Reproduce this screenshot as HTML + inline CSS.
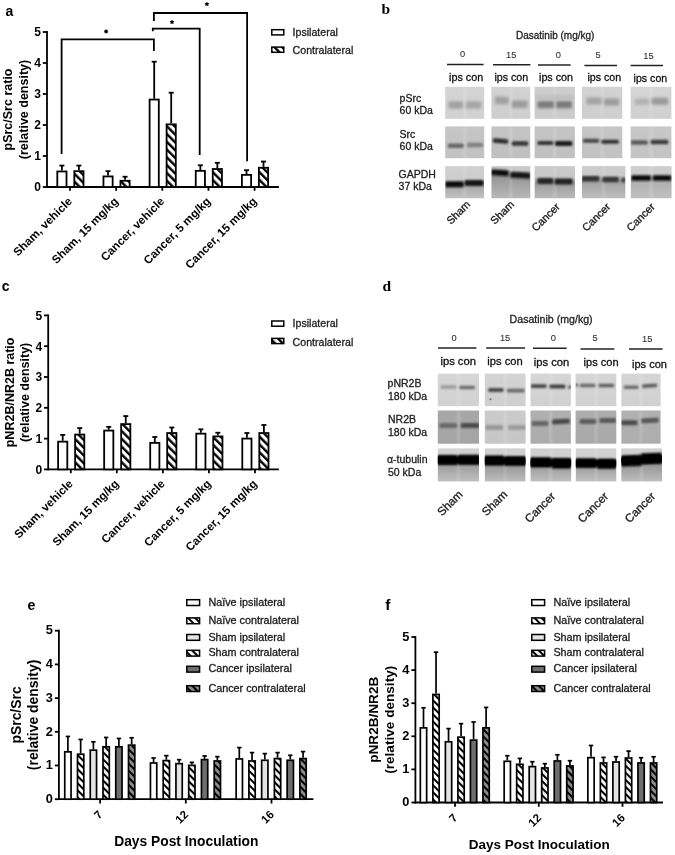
<!DOCTYPE html><html><head><meta charset="utf-8"><title>Figure</title>
<style>html,body{margin:0;padding:0;background:#fff;}svg{display:block;filter:grayscale(1);}</style></head><body>
<svg width="675" height="855" viewBox="0 0 675 855">
<defs>
<pattern id="hA" patternUnits="userSpaceOnUse" width="5.5" height="5.5" patternTransform="rotate(-45)"><rect width="5.5" height="5.5" fill="#fff"/><rect x="0" y="0" width="2.4" height="5.5" fill="#000"/></pattern>
<pattern id="hW" patternUnits="userSpaceOnUse" width="5.0" height="5.0" patternTransform="rotate(-45)"><rect width="5.0" height="5.0" fill="#fff"/><rect x="0" y="0" width="2.0" height="5.0" fill="#000"/></pattern>
<pattern id="hL" patternUnits="userSpaceOnUse" width="5.0" height="5.0" patternTransform="rotate(-45)"><rect width="5.0" height="5.0" fill="#f2f2f2"/><rect x="0" y="0" width="2.0" height="5.0" fill="#000"/></pattern>
<pattern id="hD" patternUnits="userSpaceOnUse" width="5.0" height="5.0" patternTransform="rotate(-45)"><rect width="5.0" height="5.0" fill="#8a8a8a"/><rect x="0" y="0" width="2.0" height="5.0" fill="#000"/></pattern>
<filter id="bl1" x="-50%" y="-50%" width="200%" height="200%"><feGaussianBlur stdDeviation="1.2"/></filter>
<filter id="bl15" x="-50%" y="-50%" width="200%" height="200%"><feGaussianBlur stdDeviation="1.5"/></filter>
<filter id="bl2" x="-50%" y="-50%" width="200%" height="200%"><feGaussianBlur stdDeviation="1.8"/></filter>
<filter id="bl05" x="-50%" y="-50%" width="200%" height="200%"><feGaussianBlur stdDeviation="0.6"/></filter>
<filter id="bl04" x="-5%" y="-5%" width="110%" height="110%"><feGaussianBlur stdDeviation="0.45"/></filter>
</defs>
<rect width="675" height="855" fill="#fff"/>
<text x="5.6" y="16.2" font-family='"Liberation Sans", sans-serif' font-size="14" font-weight="bold" text-anchor="start" fill="#000">a</text>
<line x1="47" y1="31.1" x2="47" y2="187.9" stroke="#000" stroke-width="1.8"/>
<line x1="42.8" y1="187" x2="47" y2="187" stroke="#000" stroke-width="1.8"/>
<text x="41" y="191.3" font-family='"Liberation Sans", sans-serif' font-size="12" font-weight="bold" text-anchor="end" fill="#000">0</text>
<line x1="42.8" y1="156" x2="47" y2="156" stroke="#000" stroke-width="1.8"/>
<text x="41" y="160.3" font-family='"Liberation Sans", sans-serif' font-size="12" font-weight="bold" text-anchor="end" fill="#000">1</text>
<line x1="42.8" y1="125" x2="47" y2="125" stroke="#000" stroke-width="1.8"/>
<text x="41" y="129.3" font-family='"Liberation Sans", sans-serif' font-size="12" font-weight="bold" text-anchor="end" fill="#000">2</text>
<line x1="42.8" y1="94" x2="47" y2="94" stroke="#000" stroke-width="1.8"/>
<text x="41" y="98.3" font-family='"Liberation Sans", sans-serif' font-size="12" font-weight="bold" text-anchor="end" fill="#000">3</text>
<line x1="42.8" y1="63" x2="47" y2="63" stroke="#000" stroke-width="1.8"/>
<text x="41" y="67.3" font-family='"Liberation Sans", sans-serif' font-size="12" font-weight="bold" text-anchor="end" fill="#000">4</text>
<line x1="42.8" y1="32" x2="47" y2="32" stroke="#000" stroke-width="1.8"/>
<text x="41" y="36.3" font-family='"Liberation Sans", sans-serif' font-size="12" font-weight="bold" text-anchor="end" fill="#000">5</text>
<line x1="46.1" y1="187" x2="278.9" y2="187" stroke="#000" stroke-width="1.8"/>
<line x1="70" y1="187" x2="70" y2="190.8" stroke="#000" stroke-width="1.8"/>
<line x1="61.9" y1="170.57" x2="61.9" y2="165.3" stroke="#000" stroke-width="1.8"/>
<line x1="59.4" y1="165.57" x2="64.4" y2="165.57" stroke="#000" stroke-width="1.8"/>
<rect x="57.3" y="171.47" width="9.2" height="15.53" fill="#fff" stroke="#000" stroke-width="1.8"/>
<line x1="78.9" y1="170.26" x2="78.9" y2="165.3" stroke="#000" stroke-width="1.8"/>
<line x1="76.4" y1="165.57" x2="81.4" y2="165.57" stroke="#000" stroke-width="1.8"/>
<rect x="74.3" y="171.16" width="9.2" height="15.84" fill="url(#hA)" stroke="#000" stroke-width="1.8"/>
<text x="72.8" y="202" font-family='"Liberation Sans", sans-serif' font-size="11.6" font-weight="bold" text-anchor="end" fill="#000" transform="rotate(-45 72.8 202)">Sham, vehicle</text>
<line x1="116.15" y1="187" x2="116.15" y2="190.8" stroke="#000" stroke-width="1.8"/>
<line x1="108.05" y1="175.53" x2="108.05" y2="170.88" stroke="#000" stroke-width="1.8"/>
<line x1="105.55" y1="171.15" x2="110.55" y2="171.15" stroke="#000" stroke-width="1.8"/>
<rect x="103.45" y="176.43" width="9.2" height="10.57" fill="#fff" stroke="#000" stroke-width="1.8"/>
<line x1="125.05" y1="179.87" x2="125.05" y2="176.46" stroke="#000" stroke-width="1.8"/>
<line x1="122.55" y1="176.73" x2="127.55" y2="176.73" stroke="#000" stroke-width="1.8"/>
<rect x="120.45" y="180.77" width="9.2" height="6.23" fill="url(#hA)" stroke="#000" stroke-width="1.8"/>
<text x="118.95" y="202" font-family='"Liberation Sans", sans-serif' font-size="11.6" font-weight="bold" text-anchor="end" fill="#000" transform="rotate(-45 118.95 202)">Sham, 15 mg/kg</text>
<line x1="162.3" y1="187" x2="162.3" y2="190.8" stroke="#000" stroke-width="1.8"/>
<line x1="154.2" y1="98.65" x2="154.2" y2="61.45" stroke="#000" stroke-width="1.8"/>
<line x1="151.7" y1="61.72" x2="156.7" y2="61.72" stroke="#000" stroke-width="1.8"/>
<rect x="149.6" y="99.55" width="9.2" height="87.45" fill="#fff" stroke="#000" stroke-width="1.8"/>
<line x1="171.2" y1="123.45" x2="171.2" y2="92.45" stroke="#000" stroke-width="1.8"/>
<line x1="168.7" y1="92.72" x2="173.7" y2="92.72" stroke="#000" stroke-width="1.8"/>
<rect x="166.6" y="124.35" width="9.2" height="62.65" fill="url(#hA)" stroke="#000" stroke-width="1.8"/>
<text x="165.1" y="202" font-family='"Liberation Sans", sans-serif' font-size="11.6" font-weight="bold" text-anchor="end" fill="#000" transform="rotate(-45 165.1 202)">Cancer, vehicle</text>
<line x1="208.45" y1="187" x2="208.45" y2="190.8" stroke="#000" stroke-width="1.8"/>
<line x1="200.35" y1="169.95" x2="200.35" y2="164.99" stroke="#000" stroke-width="1.8"/>
<line x1="197.85" y1="165.26" x2="202.85" y2="165.26" stroke="#000" stroke-width="1.8"/>
<rect x="195.75" y="170.85" width="9.2" height="16.15" fill="#fff" stroke="#000" stroke-width="1.8"/>
<line x1="217.35" y1="168.09" x2="217.35" y2="162.51" stroke="#000" stroke-width="1.8"/>
<line x1="214.85" y1="162.78" x2="219.85" y2="162.78" stroke="#000" stroke-width="1.8"/>
<rect x="212.75" y="168.99" width="9.2" height="18.01" fill="url(#hA)" stroke="#000" stroke-width="1.8"/>
<text x="211.25" y="202" font-family='"Liberation Sans", sans-serif' font-size="11.6" font-weight="bold" text-anchor="end" fill="#000" transform="rotate(-45 211.25 202)">Cancer, 5 mg/kg</text>
<line x1="254.6" y1="187" x2="254.6" y2="190.8" stroke="#000" stroke-width="1.8"/>
<line x1="246.5" y1="173.98" x2="246.5" y2="169.95" stroke="#000" stroke-width="1.8"/>
<line x1="244" y1="170.22" x2="249" y2="170.22" stroke="#000" stroke-width="1.8"/>
<rect x="241.9" y="174.88" width="9.2" height="12.12" fill="#fff" stroke="#000" stroke-width="1.8"/>
<line x1="263.5" y1="166.85" x2="263.5" y2="161.27" stroke="#000" stroke-width="1.8"/>
<line x1="261" y1="161.54" x2="266" y2="161.54" stroke="#000" stroke-width="1.8"/>
<rect x="258.9" y="167.75" width="9.2" height="19.25" fill="url(#hA)" stroke="#000" stroke-width="1.8"/>
<text x="257.4" y="202" font-family='"Liberation Sans", sans-serif' font-size="11.6" font-weight="bold" text-anchor="end" fill="#000" transform="rotate(-45 257.4 202)">Cancer, 15 mg/kg</text>
<text x="12.3" y="109.5" font-family='"Liberation Sans", sans-serif' font-size="12.5" font-weight="bold" text-anchor="middle" fill="#000" transform="rotate(-90 12.3 109.5)">pSrc/Src ratio</text>
<text x="28.3" y="109.5" font-family='"Liberation Sans", sans-serif' font-size="12.5" font-weight="bold" text-anchor="middle" fill="#000" transform="rotate(-90 28.3 109.5)">(relative density)</text>
<polyline points="61.6,154 61.6,39.3 153.9,39.3 153.9,51" fill="none" stroke="#000" stroke-width="1.8" stroke-linejoin="miter" stroke-linecap="butt"/>
<polygon points="106.1,29.1 106.98,30.29 108.38,30.76 107.53,31.96 107.51,33.44 106.1,33 104.69,33.44 104.67,31.96 103.82,30.76 105.22,30.29" fill="#000"/>
<polyline points="152.8,31.2 152.8,28.6 199.7,28.6 199.7,155" fill="none" stroke="#000" stroke-width="1.8" stroke-linejoin="miter" stroke-linecap="butt"/>
<polygon points="172,19.7 172.88,20.89 174.28,21.36 173.43,22.56 173.41,24.04 172,23.6 170.59,24.04 170.57,22.56 169.72,21.36 171.12,20.89" fill="#000"/>
<polyline points="153.9,21.1 153.9,13 247.1,13 247.1,161.3" fill="none" stroke="#000" stroke-width="1.8" stroke-linejoin="miter" stroke-linecap="butt"/>
<polygon points="206.9,1.7 207.78,2.89 209.18,3.36 208.33,4.56 208.31,6.04 206.9,5.6 205.49,6.04 205.47,4.56 204.62,3.36 206.02,2.89" fill="#000"/>
<rect x="271.8" y="29.7" width="12" height="5.2" fill="#fff" stroke="#000" stroke-width="1.5"/>
<text x="292.6" y="36" font-family='"Liberation Sans", sans-serif' font-size="10.6" stroke="#222" stroke-width="0.3" text-anchor="start" fill="#222">Ipsilateral</text>
<rect x="271.8" y="47.1" width="12" height="5.2" fill="url(#hA)" stroke="#000" stroke-width="1.5"/>
<text x="292.6" y="54.2" font-family='"Liberation Sans", sans-serif' font-size="10.6" stroke="#222" stroke-width="0.3" text-anchor="start" fill="#222">Contralateral</text>
<text x="1.8" y="291.3" font-family='"Liberation Sans", sans-serif' font-size="14" font-weight="bold" text-anchor="start" fill="#000">c</text>
<line x1="48.2" y1="314.5" x2="48.2" y2="470.3" stroke="#000" stroke-width="1.8"/>
<line x1="44" y1="469.4" x2="48.2" y2="469.4" stroke="#000" stroke-width="1.8"/>
<text x="42.2" y="473.7" font-family='"Liberation Sans", sans-serif' font-size="12" font-weight="bold" text-anchor="end" fill="#000">0</text>
<line x1="44" y1="438.6" x2="48.2" y2="438.6" stroke="#000" stroke-width="1.8"/>
<text x="42.2" y="442.9" font-family='"Liberation Sans", sans-serif' font-size="12" font-weight="bold" text-anchor="end" fill="#000">1</text>
<line x1="44" y1="407.8" x2="48.2" y2="407.8" stroke="#000" stroke-width="1.8"/>
<text x="42.2" y="412.1" font-family='"Liberation Sans", sans-serif' font-size="12" font-weight="bold" text-anchor="end" fill="#000">2</text>
<line x1="44" y1="377" x2="48.2" y2="377" stroke="#000" stroke-width="1.8"/>
<text x="42.2" y="381.3" font-family='"Liberation Sans", sans-serif' font-size="12" font-weight="bold" text-anchor="end" fill="#000">3</text>
<line x1="44" y1="346.2" x2="48.2" y2="346.2" stroke="#000" stroke-width="1.8"/>
<text x="42.2" y="350.5" font-family='"Liberation Sans", sans-serif' font-size="12" font-weight="bold" text-anchor="end" fill="#000">4</text>
<line x1="44" y1="315.4" x2="48.2" y2="315.4" stroke="#000" stroke-width="1.8"/>
<text x="42.2" y="319.7" font-family='"Liberation Sans", sans-serif' font-size="12" font-weight="bold" text-anchor="end" fill="#000">5</text>
<line x1="47.3" y1="469.4" x2="278.9" y2="469.4" stroke="#000" stroke-width="1.8"/>
<line x1="70.8" y1="469.4" x2="70.8" y2="473.2" stroke="#000" stroke-width="1.8"/>
<line x1="62.7" y1="440.76" x2="62.7" y2="434.6" stroke="#000" stroke-width="1.8"/>
<line x1="60.2" y1="434.87" x2="65.2" y2="434.87" stroke="#000" stroke-width="1.8"/>
<rect x="58.1" y="441.66" width="9.2" height="27.74" fill="#fff" stroke="#000" stroke-width="1.8"/>
<line x1="79.7" y1="433.67" x2="79.7" y2="427.82" stroke="#000" stroke-width="1.8"/>
<line x1="77.2" y1="428.09" x2="82.2" y2="428.09" stroke="#000" stroke-width="1.8"/>
<rect x="75.1" y="434.57" width="9.2" height="34.83" fill="url(#hA)" stroke="#000" stroke-width="1.8"/>
<text x="73.6" y="484.4" font-family='"Liberation Sans", sans-serif' font-size="11.6" font-weight="bold" text-anchor="end" fill="#000" transform="rotate(-45 73.6 484.4)">Sham, vehicle</text>
<line x1="116.85" y1="469.4" x2="116.85" y2="473.2" stroke="#000" stroke-width="1.8"/>
<line x1="108.75" y1="429.67" x2="108.75" y2="426.59" stroke="#000" stroke-width="1.8"/>
<line x1="106.25" y1="426.86" x2="111.25" y2="426.86" stroke="#000" stroke-width="1.8"/>
<rect x="104.15" y="430.57" width="9.2" height="38.83" fill="#fff" stroke="#000" stroke-width="1.8"/>
<line x1="125.75" y1="423.2" x2="125.75" y2="415.81" stroke="#000" stroke-width="1.8"/>
<line x1="123.25" y1="416.08" x2="128.25" y2="416.08" stroke="#000" stroke-width="1.8"/>
<rect x="121.15" y="424.1" width="9.2" height="45.3" fill="url(#hA)" stroke="#000" stroke-width="1.8"/>
<text x="119.65" y="484.4" font-family='"Liberation Sans", sans-serif' font-size="11.6" font-weight="bold" text-anchor="end" fill="#000" transform="rotate(-45 119.65 484.4)">Sham, 15 mg/kg</text>
<line x1="162.9" y1="469.4" x2="162.9" y2="473.2" stroke="#000" stroke-width="1.8"/>
<line x1="154.8" y1="441.99" x2="154.8" y2="436.75" stroke="#000" stroke-width="1.8"/>
<line x1="152.3" y1="437.02" x2="157.3" y2="437.02" stroke="#000" stroke-width="1.8"/>
<rect x="150.2" y="442.89" width="9.2" height="26.51" fill="#fff" stroke="#000" stroke-width="1.8"/>
<line x1="171.8" y1="432.13" x2="171.8" y2="427.2" stroke="#000" stroke-width="1.8"/>
<line x1="169.3" y1="427.47" x2="174.3" y2="427.47" stroke="#000" stroke-width="1.8"/>
<rect x="167.2" y="433.03" width="9.2" height="36.37" fill="url(#hA)" stroke="#000" stroke-width="1.8"/>
<text x="165.7" y="484.4" font-family='"Liberation Sans", sans-serif' font-size="11.6" font-weight="bold" text-anchor="end" fill="#000" transform="rotate(-45 165.7 484.4)">Cancer, vehicle</text>
<line x1="208.95" y1="469.4" x2="208.95" y2="473.2" stroke="#000" stroke-width="1.8"/>
<line x1="200.85" y1="432.75" x2="200.85" y2="429.05" stroke="#000" stroke-width="1.8"/>
<line x1="198.35" y1="429.32" x2="203.35" y2="429.32" stroke="#000" stroke-width="1.8"/>
<rect x="196.25" y="433.65" width="9.2" height="35.75" fill="#fff" stroke="#000" stroke-width="1.8"/>
<line x1="217.85" y1="435.52" x2="217.85" y2="432.44" stroke="#000" stroke-width="1.8"/>
<line x1="215.35" y1="432.71" x2="220.35" y2="432.71" stroke="#000" stroke-width="1.8"/>
<rect x="213.25" y="436.42" width="9.2" height="32.98" fill="url(#hA)" stroke="#000" stroke-width="1.8"/>
<text x="211.75" y="484.4" font-family='"Liberation Sans", sans-serif' font-size="11.6" font-weight="bold" text-anchor="end" fill="#000" transform="rotate(-45 211.75 484.4)">Cancer, 5 mg/kg</text>
<line x1="255" y1="469.4" x2="255" y2="473.2" stroke="#000" stroke-width="1.8"/>
<line x1="246.9" y1="437.68" x2="246.9" y2="432.75" stroke="#000" stroke-width="1.8"/>
<line x1="244.4" y1="433.02" x2="249.4" y2="433.02" stroke="#000" stroke-width="1.8"/>
<rect x="242.3" y="438.58" width="9.2" height="30.82" fill="#fff" stroke="#000" stroke-width="1.8"/>
<line x1="263.9" y1="432.13" x2="263.9" y2="424.74" stroke="#000" stroke-width="1.8"/>
<line x1="261.4" y1="425.01" x2="266.4" y2="425.01" stroke="#000" stroke-width="1.8"/>
<rect x="259.3" y="433.03" width="9.2" height="36.37" fill="url(#hA)" stroke="#000" stroke-width="1.8"/>
<text x="257.8" y="484.4" font-family='"Liberation Sans", sans-serif' font-size="11.6" font-weight="bold" text-anchor="end" fill="#000" transform="rotate(-45 257.8 484.4)">Cancer, 15 mg/kg</text>
<text x="13.6" y="392.4" font-family='"Liberation Sans", sans-serif' font-size="12.5" font-weight="bold" text-anchor="middle" fill="#000" transform="rotate(-90 13.6 392.4)">pNR2B/NR2B ratio</text>
<text x="29.2" y="392.4" font-family='"Liberation Sans", sans-serif' font-size="12.5" font-weight="bold" text-anchor="middle" fill="#000" transform="rotate(-90 29.2 392.4)">(relative density)</text>
<rect x="271.8" y="321" width="12" height="5.2" fill="#fff" stroke="#000" stroke-width="1.5"/>
<text x="292.6" y="327.3" font-family='"Liberation Sans", sans-serif' font-size="10.6" stroke="#222" stroke-width="0.3" text-anchor="start" fill="#222">Ipsilateral</text>
<rect x="271.8" y="338.4" width="12" height="5.2" fill="url(#hA)" stroke="#000" stroke-width="1.5"/>
<text x="292.6" y="345.5" font-family='"Liberation Sans", sans-serif' font-size="10.6" stroke="#222" stroke-width="0.3" text-anchor="start" fill="#222">Contralateral</text>
<text x="27.6" y="610.2" font-family='"Liberation Sans", sans-serif' font-size="14.2" font-weight="bold" text-anchor="start" fill="#000">e</text>
<line x1="58.9" y1="629.8" x2="58.9" y2="800.1" stroke="#000" stroke-width="1.8"/>
<line x1="54.9" y1="799.2" x2="58.9" y2="799.2" stroke="#000" stroke-width="1.8"/>
<text x="52.9" y="802.9" font-family='"Liberation Sans", sans-serif' font-size="12.8" font-weight="bold" text-anchor="end" fill="#000">0</text>
<line x1="54.9" y1="765.5" x2="58.9" y2="765.5" stroke="#000" stroke-width="1.8"/>
<text x="52.9" y="769.2" font-family='"Liberation Sans", sans-serif' font-size="12.8" font-weight="bold" text-anchor="end" fill="#000">1</text>
<line x1="54.9" y1="731.8" x2="58.9" y2="731.8" stroke="#000" stroke-width="1.8"/>
<text x="52.9" y="735.5" font-family='"Liberation Sans", sans-serif' font-size="12.8" font-weight="bold" text-anchor="end" fill="#000">2</text>
<line x1="54.9" y1="698.1" x2="58.9" y2="698.1" stroke="#000" stroke-width="1.8"/>
<text x="52.9" y="701.8" font-family='"Liberation Sans", sans-serif' font-size="12.8" font-weight="bold" text-anchor="end" fill="#000">3</text>
<line x1="54.9" y1="664.4" x2="58.9" y2="664.4" stroke="#000" stroke-width="1.8"/>
<text x="52.9" y="668.1" font-family='"Liberation Sans", sans-serif' font-size="12.8" font-weight="bold" text-anchor="end" fill="#000">4</text>
<line x1="54.9" y1="630.7" x2="58.9" y2="630.7" stroke="#000" stroke-width="1.8"/>
<text x="52.9" y="634.4" font-family='"Liberation Sans", sans-serif' font-size="12.8" font-weight="bold" text-anchor="end" fill="#000">5</text>
<line x1="58" y1="799.2" x2="313.4" y2="799.2" stroke="#000" stroke-width="1.8"/>
<line x1="100.1" y1="799.2" x2="100.1" y2="803.5" stroke="#000" stroke-width="1.8"/>
<line x1="67.9" y1="751.01" x2="67.9" y2="736.18" stroke="#000" stroke-width="1.7"/>
<line x1="65.7" y1="736.44" x2="70.1" y2="736.44" stroke="#000" stroke-width="1.7"/>
<rect x="64.75" y="751.86" width="6.3" height="47.34" fill="#fff" stroke="#000" stroke-width="1.7"/>
<line x1="80.65" y1="753.37" x2="80.65" y2="739.21" stroke="#000" stroke-width="1.7"/>
<line x1="78.45" y1="739.47" x2="82.85" y2="739.47" stroke="#000" stroke-width="1.7"/>
<rect x="77.5" y="754.22" width="6.3" height="44.98" fill="url(#hW)" stroke="#000" stroke-width="1.7"/>
<line x1="93.4" y1="749.32" x2="93.4" y2="741.57" stroke="#000" stroke-width="1.7"/>
<line x1="91.2" y1="741.83" x2="95.6" y2="741.83" stroke="#000" stroke-width="1.7"/>
<rect x="90.25" y="750.17" width="6.3" height="49.03" fill="#e4e4e4" stroke="#000" stroke-width="1.7"/>
<line x1="106.15" y1="745.95" x2="106.15" y2="737.19" stroke="#000" stroke-width="1.7"/>
<line x1="103.95" y1="737.45" x2="108.35" y2="737.45" stroke="#000" stroke-width="1.7"/>
<rect x="103" y="746.8" width="6.3" height="52.4" fill="url(#hL)" stroke="#000" stroke-width="1.7"/>
<line x1="118.9" y1="745.95" x2="118.9" y2="738.2" stroke="#000" stroke-width="1.7"/>
<line x1="116.7" y1="738.46" x2="121.1" y2="738.46" stroke="#000" stroke-width="1.7"/>
<rect x="115.75" y="746.8" width="6.3" height="52.4" fill="#6e6e6e" stroke="#000" stroke-width="1.7"/>
<line x1="131.65" y1="744.27" x2="131.65" y2="737.53" stroke="#000" stroke-width="1.7"/>
<line x1="129.45" y1="737.78" x2="133.85" y2="737.78" stroke="#000" stroke-width="1.7"/>
<rect x="128.5" y="745.12" width="6.3" height="54.08" fill="url(#hD)" stroke="#000" stroke-width="1.7"/>
<text x="103.4" y="815.2" font-family='"Liberation Sans", sans-serif' font-size="11.5" font-weight="bold" text-anchor="end" fill="#000" transform="rotate(-45 103.4 815.2)">7</text>
<line x1="185.8" y1="799.2" x2="185.8" y2="803.5" stroke="#000" stroke-width="1.8"/>
<line x1="153.6" y1="762.13" x2="153.6" y2="757.75" stroke="#000" stroke-width="1.7"/>
<line x1="151.4" y1="758" x2="155.8" y2="758" stroke="#000" stroke-width="1.7"/>
<rect x="150.45" y="762.98" width="6.3" height="36.22" fill="#fff" stroke="#000" stroke-width="1.7"/>
<line x1="166.35" y1="759.77" x2="166.35" y2="755.39" stroke="#000" stroke-width="1.7"/>
<line x1="164.15" y1="755.65" x2="168.55" y2="755.65" stroke="#000" stroke-width="1.7"/>
<rect x="163.2" y="760.62" width="6.3" height="38.58" fill="url(#hW)" stroke="#000" stroke-width="1.7"/>
<line x1="179.1" y1="762.8" x2="179.1" y2="759.43" stroke="#000" stroke-width="1.7"/>
<line x1="176.9" y1="759.69" x2="181.3" y2="759.69" stroke="#000" stroke-width="1.7"/>
<rect x="175.95" y="763.65" width="6.3" height="35.55" fill="#e4e4e4" stroke="#000" stroke-width="1.7"/>
<line x1="191.85" y1="764.49" x2="191.85" y2="762.13" stroke="#000" stroke-width="1.7"/>
<line x1="189.65" y1="762.38" x2="194.05" y2="762.38" stroke="#000" stroke-width="1.7"/>
<rect x="188.7" y="765.34" width="6.3" height="33.86" fill="url(#hL)" stroke="#000" stroke-width="1.7"/>
<line x1="204.6" y1="758.76" x2="204.6" y2="755.73" stroke="#000" stroke-width="1.7"/>
<line x1="202.4" y1="755.98" x2="206.8" y2="755.98" stroke="#000" stroke-width="1.7"/>
<rect x="201.45" y="759.61" width="6.3" height="39.59" fill="#6e6e6e" stroke="#000" stroke-width="1.7"/>
<line x1="217.35" y1="760.11" x2="217.35" y2="756.4" stroke="#000" stroke-width="1.7"/>
<line x1="215.15" y1="756.66" x2="219.55" y2="756.66" stroke="#000" stroke-width="1.7"/>
<rect x="214.2" y="760.96" width="6.3" height="38.24" fill="url(#hD)" stroke="#000" stroke-width="1.7"/>
<text x="189.1" y="815.2" font-family='"Liberation Sans", sans-serif' font-size="11.5" font-weight="bold" text-anchor="end" fill="#000" transform="rotate(-45 189.1 815.2)">12</text>
<line x1="271.5" y1="799.2" x2="271.5" y2="803.5" stroke="#000" stroke-width="1.8"/>
<line x1="239.3" y1="758.09" x2="239.3" y2="747.3" stroke="#000" stroke-width="1.7"/>
<line x1="237.1" y1="747.56" x2="241.5" y2="747.56" stroke="#000" stroke-width="1.7"/>
<rect x="236.15" y="758.94" width="6.3" height="40.26" fill="#fff" stroke="#000" stroke-width="1.7"/>
<line x1="252.05" y1="760.11" x2="252.05" y2="752.36" stroke="#000" stroke-width="1.7"/>
<line x1="249.85" y1="752.61" x2="254.25" y2="752.61" stroke="#000" stroke-width="1.7"/>
<rect x="248.9" y="760.96" width="6.3" height="38.24" fill="url(#hW)" stroke="#000" stroke-width="1.7"/>
<line x1="264.8" y1="759.43" x2="264.8" y2="753.37" stroke="#000" stroke-width="1.7"/>
<line x1="262.6" y1="753.62" x2="267" y2="753.62" stroke="#000" stroke-width="1.7"/>
<rect x="261.65" y="760.28" width="6.3" height="38.92" fill="#e4e4e4" stroke="#000" stroke-width="1.7"/>
<line x1="277.55" y1="757.75" x2="277.55" y2="752.36" stroke="#000" stroke-width="1.7"/>
<line x1="275.35" y1="752.61" x2="279.75" y2="752.61" stroke="#000" stroke-width="1.7"/>
<rect x="274.4" y="758.6" width="6.3" height="40.6" fill="url(#hL)" stroke="#000" stroke-width="1.7"/>
<line x1="290.3" y1="759.43" x2="290.3" y2="755.05" stroke="#000" stroke-width="1.7"/>
<line x1="288.1" y1="755.31" x2="292.5" y2="755.31" stroke="#000" stroke-width="1.7"/>
<rect x="287.15" y="760.28" width="6.3" height="38.92" fill="#6e6e6e" stroke="#000" stroke-width="1.7"/>
<line x1="303.05" y1="757.75" x2="303.05" y2="751.35" stroke="#000" stroke-width="1.7"/>
<line x1="300.85" y1="751.6" x2="305.25" y2="751.6" stroke="#000" stroke-width="1.7"/>
<rect x="299.9" y="758.6" width="6.3" height="40.6" fill="url(#hD)" stroke="#000" stroke-width="1.7"/>
<text x="274.8" y="815.2" font-family='"Liberation Sans", sans-serif' font-size="11.5" font-weight="bold" text-anchor="end" fill="#000" transform="rotate(-45 274.8 815.2)">16</text>
<text x="20.6" y="714.95" font-family='"Liberation Sans", sans-serif' font-size="13.9" font-weight="bold" text-anchor="middle" fill="#000" transform="rotate(-90 20.6 714.95)">pSrc/Src</text>
<text x="37.8" y="714.95" font-family='"Liberation Sans", sans-serif' font-size="13.9" font-weight="bold" text-anchor="middle" fill="#000" transform="rotate(-90 37.8 714.95)">(relative density)</text>
<text x="186.3" y="846.4" font-family='"Liberation Sans", sans-serif' font-size="13.8" font-weight="bold" text-anchor="middle" fill="#000">Days Post Inoculation</text>
<rect x="186.8" y="599.7" width="12.8" height="5.8" fill="#fff" stroke="#000" stroke-width="1.5"/>
<text x="208.4" y="605.8" font-family='"Liberation Sans", sans-serif' font-size="10.8" stroke="#1a1a1a" stroke-width="0.3" text-anchor="start" fill="#1a1a1a">Na&#239;ve ipsilateral</text>
<rect x="186.8" y="617.9" width="12.8" height="5.8" fill="url(#hW)" stroke="#000" stroke-width="1.5"/>
<text x="208.4" y="624" font-family='"Liberation Sans", sans-serif' font-size="10.8" stroke="#1a1a1a" stroke-width="0.3" text-anchor="start" fill="#1a1a1a">Na&#239;ve contralateral</text>
<rect x="186.8" y="634.5" width="12.8" height="5.8" fill="#e4e4e4" stroke="#000" stroke-width="1.5"/>
<text x="208.4" y="640.6" font-family='"Liberation Sans", sans-serif' font-size="10.8" stroke="#1a1a1a" stroke-width="0.3" text-anchor="start" fill="#1a1a1a">Sham ipsilateral</text>
<rect x="186.8" y="650.3" width="12.8" height="5.8" fill="url(#hL)" stroke="#000" stroke-width="1.5"/>
<text x="208.4" y="656.4" font-family='"Liberation Sans", sans-serif' font-size="10.8" stroke="#1a1a1a" stroke-width="0.3" text-anchor="start" fill="#1a1a1a">Sham contralateral</text>
<rect x="186.8" y="666.3" width="12.8" height="5.8" fill="#6e6e6e" stroke="#000" stroke-width="1.5"/>
<text x="208.4" y="672.4" font-family='"Liberation Sans", sans-serif' font-size="10.8" stroke="#1a1a1a" stroke-width="0.3" text-anchor="start" fill="#1a1a1a">Cancer ipsilateral</text>
<rect x="186.8" y="685.7" width="12.8" height="5.8" fill="url(#hD)" stroke="#000" stroke-width="1.5"/>
<text x="208.4" y="691.8" font-family='"Liberation Sans", sans-serif' font-size="10.8" stroke="#1a1a1a" stroke-width="0.3" text-anchor="start" fill="#1a1a1a">Cancer contralateral</text>
<text x="385.2" y="609.6" font-family='"Liberation Sans", sans-serif' font-size="15.5" font-weight="bold" text-anchor="start" fill="#000">f</text>
<line x1="415.4" y1="636.1" x2="415.4" y2="803.4" stroke="#000" stroke-width="1.8"/>
<line x1="411.4" y1="802.5" x2="415.4" y2="802.5" stroke="#000" stroke-width="1.8"/>
<text x="409.4" y="806.2" font-family='"Liberation Sans", sans-serif' font-size="12.8" font-weight="bold" text-anchor="end" fill="#000">0</text>
<line x1="411.4" y1="769.4" x2="415.4" y2="769.4" stroke="#000" stroke-width="1.8"/>
<text x="409.4" y="773.1" font-family='"Liberation Sans", sans-serif' font-size="12.8" font-weight="bold" text-anchor="end" fill="#000">1</text>
<line x1="411.4" y1="736.3" x2="415.4" y2="736.3" stroke="#000" stroke-width="1.8"/>
<text x="409.4" y="740" font-family='"Liberation Sans", sans-serif' font-size="12.8" font-weight="bold" text-anchor="end" fill="#000">2</text>
<line x1="411.4" y1="703.2" x2="415.4" y2="703.2" stroke="#000" stroke-width="1.8"/>
<text x="409.4" y="706.9" font-family='"Liberation Sans", sans-serif' font-size="12.8" font-weight="bold" text-anchor="end" fill="#000">3</text>
<line x1="411.4" y1="670.1" x2="415.4" y2="670.1" stroke="#000" stroke-width="1.8"/>
<text x="409.4" y="673.8" font-family='"Liberation Sans", sans-serif' font-size="12.8" font-weight="bold" text-anchor="end" fill="#000">4</text>
<line x1="411.4" y1="637" x2="415.4" y2="637" stroke="#000" stroke-width="1.8"/>
<text x="409.4" y="640.7" font-family='"Liberation Sans", sans-serif' font-size="12.8" font-weight="bold" text-anchor="end" fill="#000">5</text>
<line x1="414.5" y1="802.5" x2="663" y2="802.5" stroke="#000" stroke-width="1.8"/>
<line x1="455" y1="802.5" x2="455" y2="806.8" stroke="#000" stroke-width="1.8"/>
<line x1="423.5" y1="727.03" x2="423.5" y2="707.5" stroke="#000" stroke-width="1.7"/>
<line x1="421.3" y1="707.76" x2="425.7" y2="707.76" stroke="#000" stroke-width="1.7"/>
<rect x="420.35" y="727.88" width="6.3" height="74.62" fill="#fff" stroke="#000" stroke-width="1.7"/>
<line x1="436.02" y1="693.6" x2="436.02" y2="651.89" stroke="#000" stroke-width="1.7"/>
<line x1="433.82" y1="652.15" x2="438.22" y2="652.15" stroke="#000" stroke-width="1.7"/>
<rect x="432.87" y="694.45" width="6.3" height="108.05" fill="url(#hW)" stroke="#000" stroke-width="1.7"/>
<line x1="448.54" y1="740.93" x2="448.54" y2="728.36" stroke="#000" stroke-width="1.7"/>
<line x1="446.34" y1="728.61" x2="450.74" y2="728.61" stroke="#000" stroke-width="1.7"/>
<rect x="445.39" y="741.78" width="6.3" height="60.72" fill="#e4e4e4" stroke="#000" stroke-width="1.7"/>
<line x1="461.06" y1="736.3" x2="461.06" y2="723.39" stroke="#000" stroke-width="1.7"/>
<line x1="458.86" y1="723.65" x2="463.26" y2="723.65" stroke="#000" stroke-width="1.7"/>
<rect x="457.91" y="737.15" width="6.3" height="65.35" fill="url(#hL)" stroke="#000" stroke-width="1.7"/>
<line x1="473.58" y1="739.28" x2="473.58" y2="721.74" stroke="#000" stroke-width="1.7"/>
<line x1="471.38" y1="721.99" x2="475.78" y2="721.99" stroke="#000" stroke-width="1.7"/>
<rect x="470.43" y="740.13" width="6.3" height="62.37" fill="#6e6e6e" stroke="#000" stroke-width="1.7"/>
<line x1="486.1" y1="727.03" x2="486.1" y2="707.17" stroke="#000" stroke-width="1.7"/>
<line x1="483.9" y1="707.43" x2="488.3" y2="707.43" stroke="#000" stroke-width="1.7"/>
<rect x="482.95" y="727.88" width="6.3" height="74.62" fill="url(#hD)" stroke="#000" stroke-width="1.7"/>
<text x="458.3" y="818.5" font-family='"Liberation Sans", sans-serif' font-size="11.5" font-weight="bold" text-anchor="end" fill="#000" transform="rotate(-45 458.3 818.5)">7</text>
<line x1="538.8" y1="802.5" x2="538.8" y2="806.8" stroke="#000" stroke-width="1.8"/>
<line x1="507.3" y1="760.46" x2="507.3" y2="755.5" stroke="#000" stroke-width="1.7"/>
<line x1="505.1" y1="755.75" x2="509.5" y2="755.75" stroke="#000" stroke-width="1.7"/>
<rect x="504.15" y="761.31" width="6.3" height="41.19" fill="#fff" stroke="#000" stroke-width="1.7"/>
<line x1="519.82" y1="763.44" x2="519.82" y2="758.15" stroke="#000" stroke-width="1.7"/>
<line x1="517.62" y1="758.4" x2="522.02" y2="758.4" stroke="#000" stroke-width="1.7"/>
<rect x="516.67" y="764.29" width="6.3" height="38.21" fill="url(#hW)" stroke="#000" stroke-width="1.7"/>
<line x1="532.34" y1="765.76" x2="532.34" y2="761.46" stroke="#000" stroke-width="1.7"/>
<line x1="530.14" y1="761.71" x2="534.54" y2="761.71" stroke="#000" stroke-width="1.7"/>
<rect x="529.19" y="766.61" width="6.3" height="35.89" fill="#e4e4e4" stroke="#000" stroke-width="1.7"/>
<line x1="544.86" y1="767.08" x2="544.86" y2="763.44" stroke="#000" stroke-width="1.7"/>
<line x1="542.66" y1="763.7" x2="547.06" y2="763.7" stroke="#000" stroke-width="1.7"/>
<rect x="541.71" y="767.93" width="6.3" height="34.57" fill="url(#hL)" stroke="#000" stroke-width="1.7"/>
<line x1="557.38" y1="760.13" x2="557.38" y2="754.5" stroke="#000" stroke-width="1.7"/>
<line x1="555.18" y1="754.76" x2="559.58" y2="754.76" stroke="#000" stroke-width="1.7"/>
<rect x="554.23" y="760.98" width="6.3" height="41.52" fill="#6e6e6e" stroke="#000" stroke-width="1.7"/>
<line x1="569.9" y1="765.1" x2="569.9" y2="760.46" stroke="#000" stroke-width="1.7"/>
<line x1="567.7" y1="760.72" x2="572.1" y2="760.72" stroke="#000" stroke-width="1.7"/>
<rect x="566.75" y="765.95" width="6.3" height="36.55" fill="url(#hD)" stroke="#000" stroke-width="1.7"/>
<text x="542.1" y="818.5" font-family='"Liberation Sans", sans-serif' font-size="11.5" font-weight="bold" text-anchor="end" fill="#000" transform="rotate(-45 542.1 818.5)">12</text>
<line x1="622.5" y1="802.5" x2="622.5" y2="806.8" stroke="#000" stroke-width="1.8"/>
<line x1="591" y1="756.82" x2="591" y2="745.24" stroke="#000" stroke-width="1.7"/>
<line x1="588.8" y1="745.49" x2="593.2" y2="745.49" stroke="#000" stroke-width="1.7"/>
<rect x="587.85" y="757.67" width="6.3" height="44.83" fill="#fff" stroke="#000" stroke-width="1.7"/>
<line x1="603.52" y1="762.12" x2="603.52" y2="757.15" stroke="#000" stroke-width="1.7"/>
<line x1="601.32" y1="757.41" x2="605.72" y2="757.41" stroke="#000" stroke-width="1.7"/>
<rect x="600.37" y="762.97" width="6.3" height="39.53" fill="url(#hW)" stroke="#000" stroke-width="1.7"/>
<line x1="616.04" y1="761.12" x2="616.04" y2="756.49" stroke="#000" stroke-width="1.7"/>
<line x1="613.84" y1="756.75" x2="618.24" y2="756.75" stroke="#000" stroke-width="1.7"/>
<rect x="612.89" y="761.98" width="6.3" height="40.52" fill="#e4e4e4" stroke="#000" stroke-width="1.7"/>
<line x1="628.56" y1="757.15" x2="628.56" y2="750.86" stroke="#000" stroke-width="1.7"/>
<line x1="626.36" y1="751.12" x2="630.76" y2="751.12" stroke="#000" stroke-width="1.7"/>
<rect x="625.41" y="758" width="6.3" height="44.5" fill="url(#hL)" stroke="#000" stroke-width="1.7"/>
<line x1="641.08" y1="762.12" x2="641.08" y2="757.48" stroke="#000" stroke-width="1.7"/>
<line x1="638.88" y1="757.74" x2="643.28" y2="757.74" stroke="#000" stroke-width="1.7"/>
<rect x="637.93" y="762.97" width="6.3" height="39.53" fill="#6e6e6e" stroke="#000" stroke-width="1.7"/>
<line x1="653.6" y1="762.12" x2="653.6" y2="756.49" stroke="#000" stroke-width="1.7"/>
<line x1="651.4" y1="756.75" x2="655.8" y2="756.75" stroke="#000" stroke-width="1.7"/>
<rect x="650.45" y="762.97" width="6.3" height="39.53" fill="url(#hD)" stroke="#000" stroke-width="1.7"/>
<text x="625.8" y="818.5" font-family='"Liberation Sans", sans-serif' font-size="11.5" font-weight="bold" text-anchor="end" fill="#000" transform="rotate(-45 625.8 818.5)">16</text>
<text x="378.4" y="719.75" font-family='"Liberation Sans", sans-serif' font-size="13.6" font-weight="bold" text-anchor="middle" fill="#000" transform="rotate(-90 378.4 719.75)">pNR2B/NR2B</text>
<text x="393.6" y="719.75" font-family='"Liberation Sans", sans-serif' font-size="13.6" font-weight="bold" text-anchor="middle" fill="#000" transform="rotate(-90 393.6 719.75)">(relative density)</text>
<text x="539.25" y="848.5" font-family='"Liberation Sans", sans-serif' font-size="13.5" font-weight="bold" text-anchor="middle" fill="#000">Days Post Inoculation</text>
<rect x="531.8" y="599.7" width="12.8" height="5.8" fill="#fff" stroke="#000" stroke-width="1.5"/>
<text x="553.4" y="605.8" font-family='"Liberation Sans", sans-serif' font-size="10.8" stroke="#1a1a1a" stroke-width="0.3" text-anchor="start" fill="#1a1a1a">Na&#239;ve ipsilateral</text>
<rect x="531.8" y="617.9" width="12.8" height="5.8" fill="url(#hW)" stroke="#000" stroke-width="1.5"/>
<text x="553.4" y="624" font-family='"Liberation Sans", sans-serif' font-size="10.8" stroke="#1a1a1a" stroke-width="0.3" text-anchor="start" fill="#1a1a1a">Na&#239;ve contralateral</text>
<rect x="531.8" y="634.5" width="12.8" height="5.8" fill="#e4e4e4" stroke="#000" stroke-width="1.5"/>
<text x="553.4" y="640.6" font-family='"Liberation Sans", sans-serif' font-size="10.8" stroke="#1a1a1a" stroke-width="0.3" text-anchor="start" fill="#1a1a1a">Sham ipsilateral</text>
<rect x="531.8" y="650.3" width="12.8" height="5.8" fill="url(#hL)" stroke="#000" stroke-width="1.5"/>
<text x="553.4" y="656.4" font-family='"Liberation Sans", sans-serif' font-size="10.8" stroke="#1a1a1a" stroke-width="0.3" text-anchor="start" fill="#1a1a1a">Sham contralateral</text>
<rect x="531.8" y="666.3" width="12.8" height="5.8" fill="#6e6e6e" stroke="#000" stroke-width="1.5"/>
<text x="553.4" y="672.4" font-family='"Liberation Sans", sans-serif' font-size="10.8" stroke="#1a1a1a" stroke-width="0.3" text-anchor="start" fill="#1a1a1a">Cancer ipsilateral</text>
<rect x="531.8" y="685.7" width="12.8" height="5.8" fill="url(#hD)" stroke="#000" stroke-width="1.5"/>
<text x="553.4" y="691.8" font-family='"Liberation Sans", sans-serif' font-size="10.8" stroke="#1a1a1a" stroke-width="0.3" text-anchor="start" fill="#1a1a1a">Cancer contralateral</text>
<text x="381.6" y="14.2" font-family='"Liberation Serif", serif' font-size="15.5" font-weight="bold" text-anchor="start" fill="#000">b</text>
<text x="516" y="39.2" font-family='"Liberation Sans", sans-serif' font-size="10" stroke="#222" stroke-width="0.3" text-anchor="start" fill="#222">Dasatinib (mg/kg)</text>
<line x1="447" y1="64.6" x2="483.6" y2="64.6" stroke="#222" stroke-width="1.5"/>
<line x1="493" y1="64.8" x2="530.4" y2="64.8" stroke="#222" stroke-width="1.5"/>
<line x1="538" y1="65" x2="570.6" y2="65" stroke="#222" stroke-width="1.5"/>
<line x1="584.4" y1="65.4" x2="617" y2="65.4" stroke="#222" stroke-width="1.5"/>
<line x1="630.6" y1="65.4" x2="663" y2="65.4" stroke="#222" stroke-width="1.5"/>
<text x="462.5" y="57.3" font-family='"Liberation Sans", sans-serif' font-size="9.3" stroke="#333" stroke-width="0.1" text-anchor="middle" fill="#333">0</text>
<text x="511.2" y="57.5" font-family='"Liberation Sans", sans-serif' font-size="9.3" stroke="#333" stroke-width="0.1" text-anchor="middle" fill="#333">15</text>
<text x="558.3" y="57.5" font-family='"Liberation Sans", sans-serif' font-size="9.3" stroke="#333" stroke-width="0.1" text-anchor="middle" fill="#333">0</text>
<text x="598.2" y="57.9" font-family='"Liberation Sans", sans-serif' font-size="9.3" stroke="#333" stroke-width="0.1" text-anchor="middle" fill="#333">5</text>
<text x="648.5" y="58.7" font-family='"Liberation Sans", sans-serif' font-size="9.3" stroke="#333" stroke-width="0.1" text-anchor="middle" fill="#333">15</text>
<text x="449" y="80.6" font-family='"Liberation Sans", sans-serif' font-size="11" stroke="#111" stroke-width="0.3" text-anchor="start" fill="#111" textLength="34.2" lengthAdjust="spacingAndGlyphs">ips con</text>
<text x="494.4" y="80.6" font-family='"Liberation Sans", sans-serif' font-size="11" stroke="#111" stroke-width="0.3" text-anchor="start" fill="#111" textLength="33.8" lengthAdjust="spacingAndGlyphs">ips con</text>
<text x="539" y="81" font-family='"Liberation Sans", sans-serif' font-size="11" stroke="#111" stroke-width="0.3" text-anchor="start" fill="#111" textLength="34" lengthAdjust="spacingAndGlyphs">ips con</text>
<text x="587.4" y="81.4" font-family='"Liberation Sans", sans-serif' font-size="11" stroke="#111" stroke-width="0.3" text-anchor="start" fill="#111" textLength="33.8" lengthAdjust="spacingAndGlyphs">ips con</text>
<text x="633.6" y="82.4" font-family='"Liberation Sans", sans-serif' font-size="11" stroke="#111" stroke-width="0.3" text-anchor="start" fill="#111" textLength="33.6" lengthAdjust="spacingAndGlyphs">ips con</text>
<text x="399.6" y="101.6" font-family='"Liberation Sans", sans-serif' font-size="10.5" stroke="#222" stroke-width="0.3" text-anchor="start" fill="#222">pSrc</text>
<text x="399.6" y="113.6" font-family='"Liberation Sans", sans-serif' font-size="10.5" stroke="#222" stroke-width="0.3" text-anchor="start" fill="#222">60 kDa</text>
<text x="399.6" y="137.6" font-family='"Liberation Sans", sans-serif' font-size="10.5" stroke="#222" stroke-width="0.3" text-anchor="start" fill="#222">Src</text>
<text x="399.6" y="149.6" font-family='"Liberation Sans", sans-serif' font-size="10.5" stroke="#222" stroke-width="0.3" text-anchor="start" fill="#222">60 kDa</text>
<text x="398.6" y="178" font-family='"Liberation Sans", sans-serif' font-size="10.5" stroke="#222" stroke-width="0.3" text-anchor="start" fill="#222">GAPDH</text>
<text x="398.6" y="190.2" font-family='"Liberation Sans", sans-serif' font-size="10.5" stroke="#222" stroke-width="0.3" text-anchor="start" fill="#222">37 kDa</text>
<text x="451" y="225" font-family='"Liberation Sans", sans-serif' font-size="10.8" stroke="#1a1a1a" stroke-width="0.3" text-anchor="start" fill="#1a1a1a" transform="rotate(-45 451 225)">Sham</text>
<text x="494.8" y="225" font-family='"Liberation Sans", sans-serif' font-size="10.8" stroke="#1a1a1a" stroke-width="0.3" text-anchor="start" fill="#1a1a1a" transform="rotate(-45 494.8 225)">Sham</text>
<text x="536" y="232" font-family='"Liberation Sans", sans-serif' font-size="10.8" stroke="#1a1a1a" stroke-width="0.3" text-anchor="start" fill="#1a1a1a" transform="rotate(-45 536 232)">Cancer</text>
<text x="586.5" y="232" font-family='"Liberation Sans", sans-serif' font-size="10.8" stroke="#1a1a1a" stroke-width="0.3" text-anchor="start" fill="#1a1a1a" transform="rotate(-45 586.5 232)">Cancer</text>
<text x="631" y="232" font-family='"Liberation Sans", sans-serif' font-size="10.8" stroke="#1a1a1a" stroke-width="0.3" text-anchor="start" fill="#1a1a1a" transform="rotate(-45 631 232)">Cancer</text>
<g filter="url(#bl04)">
<linearGradient id="gb00" x1="0" y1="0" x2="0" y2="1"><stop offset="0" stop-color="#d4d4d4"/><stop offset="1" stop-color="#d2d2d2"/></linearGradient>
<rect x="445.2" y="86.8" width="39" height="32" fill="url(#gb00)"/>
<clipPath id="cb00"><rect x="445.2" y="86.8" width="39" height="32"/></clipPath>
<g clip-path="url(#cb00)">
<rect x="463.2" y="86.8" width="3" height="32" fill="#fff" opacity="0.16" filter="url(#bl1)"/>
<rect x="448.2" y="101.25" width="14.8" height="7.5" rx="1.5" fill="#a2a2a2" filter="url(#bl15)"/>
<rect x="465.9" y="101.25" width="15.6" height="7.5" rx="1.5" fill="#a6a6a6" filter="url(#bl15)"/>
</g>
<linearGradient id="gb01" x1="0" y1="0" x2="0" y2="1"><stop offset="0" stop-color="#d2d2d2"/><stop offset="1" stop-color="#cecece"/></linearGradient>
<rect x="491.4" y="86.8" width="38.8" height="32" fill="url(#gb01)"/>
<clipPath id="cb01"><rect x="491.4" y="86.8" width="38.8" height="32"/></clipPath>
<g clip-path="url(#cb01)">
<rect x="509.3" y="86.8" width="3" height="32" fill="#fff" opacity="0.16" filter="url(#bl1)"/>
<rect x="494.8" y="96.75" width="14" height="7.5" rx="1.5" fill="#a0a0a0" filter="url(#bl15)" transform="rotate(4 501.8 100.5)"/>
<rect x="511.8" y="100.45" width="15.7" height="7.5" rx="1.5" fill="#9c9c9c" filter="url(#bl15)"/>
</g>
<linearGradient id="gb02" x1="0" y1="0" x2="0" y2="1"><stop offset="0" stop-color="#cdcdcd"/><stop offset="1" stop-color="#cbcbcb"/></linearGradient>
<rect x="534.6" y="86.8" width="40.3" height="32" fill="url(#gb02)"/>
<clipPath id="cb02"><rect x="534.6" y="86.8" width="40.3" height="32"/></clipPath>
<g clip-path="url(#cb02)">
<rect x="553.25" y="86.8" width="3" height="32" fill="#fff" opacity="0.16" filter="url(#bl1)"/>
<rect x="537.4" y="100.85" width="16.6" height="7.5" rx="1.5" fill="#7c7c7c" filter="url(#bl15)"/>
<rect x="556.1" y="100.85" width="15.9" height="7.5" rx="1.5" fill="#7a7a7a" filter="url(#bl15)"/>
<rect x="535.2" y="95" width="38.6" height="5" rx="1.5" fill="#c0c0c0" filter="url(#bl2)"/>
</g>
<linearGradient id="gb03" x1="0" y1="0" x2="0" y2="1"><stop offset="0" stop-color="#d2d2d2"/><stop offset="1" stop-color="#cecece"/></linearGradient>
<rect x="582" y="86.8" width="40.3" height="32" fill="url(#gb03)"/>
<clipPath id="cb03"><rect x="582" y="86.8" width="40.3" height="32"/></clipPath>
<g clip-path="url(#cb03)">
<rect x="600.65" y="86.8" width="3" height="32" fill="#fff" opacity="0.16" filter="url(#bl1)"/>
<rect x="586.2" y="97.4" width="15.6" height="7" rx="1.5" fill="#a4a4a4" filter="url(#bl15)"/>
<rect x="604" y="98.5" width="15.3" height="7" rx="1.5" fill="#9c9c9c" filter="url(#bl15)"/>
</g>
<linearGradient id="gb04" x1="0" y1="0" x2="0" y2="1"><stop offset="0" stop-color="#d6d6d6"/><stop offset="1" stop-color="#d0d0d0"/></linearGradient>
<rect x="630.6" y="86.8" width="40.8" height="32" fill="url(#gb04)"/>
<clipPath id="cb04"><rect x="630.6" y="86.8" width="40.8" height="32"/></clipPath>
<g clip-path="url(#cb04)">
<rect x="649.5" y="86.8" width="3" height="32" fill="#fff" opacity="0.16" filter="url(#bl1)"/>
<rect x="634.5" y="98.55" width="14.5" height="6.5" rx="1.5" fill="#b2b2b2" filter="url(#bl15)"/>
<rect x="651.6" y="97.8" width="16.7" height="7" rx="1.5" fill="#9a9a9a" filter="url(#bl15)"/>
</g>
<linearGradient id="gb10" x1="0" y1="0" x2="0" y2="1"><stop offset="0" stop-color="#c6c6c6"/><stop offset="1" stop-color="#c2c2c2"/></linearGradient>
<rect x="445.2" y="126.4" width="39" height="31.8" fill="url(#gb10)"/>
<clipPath id="cb10"><rect x="445.2" y="126.4" width="39" height="31.8"/></clipPath>
<g clip-path="url(#cb10)">
<rect x="463.2" y="126.4" width="3" height="31.8" fill="#fff" opacity="0.16" filter="url(#bl1)"/>
<rect x="447.8" y="143.45" width="16" height="4.5" rx="1.5" fill="#666666" filter="url(#bl1)"/>
<rect x="467.1" y="142.75" width="15.9" height="4.5" rx="1.5" fill="#808080" filter="url(#bl1)"/>
</g>
<linearGradient id="gb11" x1="0" y1="0" x2="0" y2="1"><stop offset="0" stop-color="#c4c4c4"/><stop offset="1" stop-color="#c0c0c0"/></linearGradient>
<rect x="491.4" y="126.4" width="38.8" height="31.8" fill="url(#gb11)"/>
<clipPath id="cb11"><rect x="491.4" y="126.4" width="38.8" height="31.8"/></clipPath>
<g clip-path="url(#cb11)">
<rect x="509.3" y="126.4" width="3" height="31.8" fill="#fff" opacity="0.16" filter="url(#bl1)"/>
<rect x="492.8" y="138.65" width="15.4" height="4.5" rx="1.5" fill="#2a2a2a" filter="url(#bl1)" transform="rotate(5 500.5 140.9)"/>
<rect x="511.8" y="141.25" width="16.4" height="4.5" rx="1.5" fill="#343434" filter="url(#bl1)"/>
</g>
<linearGradient id="gb12" x1="0" y1="0" x2="0" y2="1"><stop offset="0" stop-color="#c4c4c4"/><stop offset="1" stop-color="#c0c0c0"/></linearGradient>
<rect x="534.6" y="126.4" width="40.3" height="31.8" fill="url(#gb12)"/>
<clipPath id="cb12"><rect x="534.6" y="126.4" width="40.3" height="31.8"/></clipPath>
<g clip-path="url(#cb12)">
<rect x="553.25" y="126.4" width="3" height="31.8" fill="#fff" opacity="0.16" filter="url(#bl1)"/>
<rect x="537.4" y="141" width="16" height="4" rx="1.5" fill="#353535" filter="url(#bl1)"/>
<rect x="555" y="141" width="17.3" height="5" rx="1.5" fill="#1e1e1e" filter="url(#bl1)"/>
</g>
<linearGradient id="gb13" x1="0" y1="0" x2="0" y2="1"><stop offset="0" stop-color="#c6c6c6"/><stop offset="1" stop-color="#c2c2c2"/></linearGradient>
<rect x="582" y="126.4" width="40.3" height="31.8" fill="url(#gb13)"/>
<clipPath id="cb13"><rect x="582" y="126.4" width="40.3" height="31.8"/></clipPath>
<g clip-path="url(#cb13)">
<rect x="600.65" y="126.4" width="3" height="31.8" fill="#fff" opacity="0.16" filter="url(#bl1)"/>
<rect x="582.9" y="138.7" width="16.2" height="4" rx="1.5" fill="#464646" filter="url(#bl1)"/>
<rect x="601.2" y="139.8" width="17.6" height="4" rx="1.5" fill="#303030" filter="url(#bl1)"/>
</g>
<linearGradient id="gb14" x1="0" y1="0" x2="0" y2="1"><stop offset="0" stop-color="#c8c8c8"/><stop offset="1" stop-color="#c4c4c4"/></linearGradient>
<rect x="630.6" y="126.4" width="40.8" height="31.8" fill="url(#gb14)"/>
<clipPath id="cb14"><rect x="630.6" y="126.4" width="40.8" height="31.8"/></clipPath>
<g clip-path="url(#cb14)">
<rect x="649.5" y="126.4" width="3" height="31.8" fill="#fff" opacity="0.16" filter="url(#bl1)"/>
<rect x="630.6" y="140.15" width="17.2" height="4.5" rx="1.5" fill="#5c5c5c" filter="url(#bl1)"/>
<rect x="650.6" y="139.75" width="17.7" height="4.5" rx="1.5" fill="#3e3e3e" filter="url(#bl1)"/>
</g>
<linearGradient id="gb20" x1="0" y1="0" x2="0" y2="1"><stop offset="0" stop-color="#d0d0d0"/><stop offset="1" stop-color="#cacaca"/></linearGradient>
<rect x="445.2" y="166.1" width="38.8" height="32.2" fill="url(#gb20)"/>
<clipPath id="cb20"><rect x="445.2" y="166.1" width="38.8" height="32.2"/></clipPath>
<g clip-path="url(#cb20)">
<linearGradient id="sb20" x1="0" y1="0" x2="0" y2="1"><stop offset="0" stop-color="#000" stop-opacity="0"/><stop offset="0.33" stop-color="#000" stop-opacity="0.18"/><stop offset="1" stop-color="#000" stop-opacity="0.04"/></linearGradient>
<rect x="445.2" y="180" width="38.8" height="18.3" fill="url(#sb20)"/>
<rect x="463.1" y="166.1" width="3" height="32.2" fill="#fff" opacity="0.16" filter="url(#bl1)"/>
<rect x="445.2" y="181.2" width="18.6" height="6" rx="1.5" fill="#101010" filter="url(#bl1)"/>
<rect x="464.4" y="180" width="19.4" height="6" rx="1.5" fill="#181818" filter="url(#bl1)"/>
</g>
<linearGradient id="gb21" x1="0" y1="0" x2="0" y2="1"><stop offset="0" stop-color="#cacaca"/><stop offset="1" stop-color="#c6c6c6"/></linearGradient>
<rect x="491.4" y="166.1" width="38.9" height="32.2" fill="url(#gb21)"/>
<clipPath id="cb21"><rect x="491.4" y="166.1" width="38.9" height="32.2"/></clipPath>
<g clip-path="url(#cb21)">
<linearGradient id="sb21" x1="0" y1="0" x2="0" y2="1"><stop offset="0" stop-color="#000" stop-opacity="0"/><stop offset="0.21" stop-color="#000" stop-opacity="0.26"/><stop offset="1" stop-color="#000" stop-opacity="0.07"/></linearGradient>
<rect x="491.4" y="170" width="38.9" height="28.3" fill="url(#sb21)"/>
<rect x="509.35" y="166.1" width="3" height="32.2" fill="#fff" opacity="0.16" filter="url(#bl1)"/>
<rect x="491.1" y="169.7" width="17.7" height="6" rx="1.5" fill="#0a0a0a" filter="url(#bl1)" transform="rotate(4 499.95 172.7)"/>
<rect x="510.2" y="172.3" width="20.2" height="6" rx="1.5" fill="#181818" filter="url(#bl1)" transform="rotate(3 520.3 175.3)"/>
</g>
<linearGradient id="gb22" x1="0" y1="0" x2="0" y2="1"><stop offset="0" stop-color="#cacaca"/><stop offset="1" stop-color="#c6c6c6"/></linearGradient>
<rect x="534.6" y="166.1" width="40.4" height="32.2" fill="url(#gb22)"/>
<clipPath id="cb22"><rect x="534.6" y="166.1" width="40.4" height="32.2"/></clipPath>
<g clip-path="url(#cb22)">
<linearGradient id="sb22" x1="0" y1="0" x2="0" y2="1"><stop offset="0" stop-color="#000" stop-opacity="0"/><stop offset="0.28" stop-color="#000" stop-opacity="0.22"/><stop offset="1" stop-color="#000" stop-opacity="0.06"/></linearGradient>
<rect x="534.6" y="177" width="40.4" height="21.3" fill="url(#sb22)"/>
<rect x="553.3" y="166.1" width="3" height="32.2" fill="#fff" opacity="0.16" filter="url(#bl1)"/>
<rect x="537.2" y="177.9" width="16.2" height="6" rx="1.5" fill="#282828" filter="url(#bl1)"/>
<rect x="554.5" y="178.5" width="18.2" height="6" rx="1.5" fill="#242424" filter="url(#bl1)"/>
</g>
<linearGradient id="gb23" x1="0" y1="0" x2="0" y2="1"><stop offset="0" stop-color="#cccccc"/><stop offset="1" stop-color="#c8c8c8"/></linearGradient>
<rect x="582" y="166.1" width="43.4" height="32.2" fill="url(#gb23)"/>
<clipPath id="cb23"><rect x="582" y="166.1" width="43.4" height="32.2"/></clipPath>
<g clip-path="url(#cb23)">
<linearGradient id="sb23" x1="0" y1="0" x2="0" y2="1"><stop offset="0" stop-color="#000" stop-opacity="0"/><stop offset="0.26" stop-color="#000" stop-opacity="0.2"/><stop offset="1" stop-color="#000" stop-opacity="0.05"/></linearGradient>
<rect x="582" y="175" width="43.4" height="23.3" fill="url(#sb23)"/>
<rect x="602.2" y="166.1" width="3" height="32.2" fill="#fff" opacity="0.16" filter="url(#bl1)"/>
<rect x="581.7" y="176.05" width="17.8" height="5.5" rx="1.5" fill="#323232" filter="url(#bl1)"/>
<rect x="602.2" y="176.85" width="16.6" height="5.5" rx="1.5" fill="#383838" filter="url(#bl1)"/>
<rect x="621.3" y="177.5" width="4.1" height="5" rx="1.5" fill="#404040" filter="url(#bl1)"/>
</g>
<linearGradient id="gb24" x1="0" y1="0" x2="0" y2="1"><stop offset="0" stop-color="#cecece"/><stop offset="1" stop-color="#c8c8c8"/></linearGradient>
<rect x="630.8" y="166.1" width="40.8" height="32.2" fill="url(#gb24)"/>
<clipPath id="cb24"><rect x="630.8" y="166.1" width="40.8" height="32.2"/></clipPath>
<g clip-path="url(#cb24)">
<linearGradient id="sb24" x1="0" y1="0" x2="0" y2="1"><stop offset="0" stop-color="#000" stop-opacity="0"/><stop offset="0.25" stop-color="#000" stop-opacity="0.14"/><stop offset="1" stop-color="#000" stop-opacity="0.04"/></linearGradient>
<rect x="630.8" y="174" width="40.8" height="24.3" fill="url(#sb24)"/>
<rect x="649.7" y="166.1" width="3" height="32.2" fill="#fff" opacity="0.16" filter="url(#bl1)"/>
<rect x="631.2" y="175.35" width="19.9" height="5.5" rx="1.5" fill="#0c0c0c" filter="url(#bl1)"/>
<rect x="652.7" y="175.35" width="18.8" height="5.5" rx="1.5" fill="#0c0c0c" filter="url(#bl1)"/>
</g>
</g>
<text x="382.6" y="291.2" font-family='"Liberation Serif", serif' font-size="15.5" font-weight="bold" text-anchor="start" fill="#000">d</text>
<text x="509.6" y="322.6" font-family='"Liberation Sans", sans-serif' font-size="10.6" stroke="#222" stroke-width="0.3" text-anchor="start" fill="#222">Dasatinib (mg/kg)</text>
<line x1="438" y1="348.1" x2="476.4" y2="348.1" stroke="#222" stroke-width="1.5"/>
<line x1="486.2" y1="348.1" x2="525.1" y2="348.1" stroke="#222" stroke-width="1.5"/>
<line x1="533" y1="348.3" x2="566.7" y2="348.3" stroke="#222" stroke-width="1.5"/>
<line x1="580.6" y1="349" x2="614.4" y2="349" stroke="#222" stroke-width="1.5"/>
<line x1="629" y1="349" x2="662.6" y2="349" stroke="#222" stroke-width="1.5"/>
<text x="454.2" y="340.5" font-family='"Liberation Sans", sans-serif' font-size="9.3" stroke="#333" stroke-width="0.1" text-anchor="middle" fill="#333">0</text>
<text x="505.1" y="340.5" font-family='"Liberation Sans", sans-serif' font-size="9.3" stroke="#333" stroke-width="0.1" text-anchor="middle" fill="#333">15</text>
<text x="553.4" y="340.5" font-family='"Liberation Sans", sans-serif' font-size="9.3" stroke="#333" stroke-width="0.1" text-anchor="middle" fill="#333">0</text>
<text x="595.2" y="341" font-family='"Liberation Sans", sans-serif' font-size="9.3" stroke="#333" stroke-width="0.1" text-anchor="middle" fill="#333">5</text>
<text x="647.2" y="342" font-family='"Liberation Sans", sans-serif' font-size="9.3" stroke="#333" stroke-width="0.1" text-anchor="middle" fill="#333">15</text>
<text x="440.4" y="365.4" font-family='"Liberation Sans", sans-serif' font-size="11" stroke="#111" stroke-width="0.3" text-anchor="start" fill="#111" textLength="35.6" lengthAdjust="spacingAndGlyphs">ips con</text>
<text x="487.3" y="365.4" font-family='"Liberation Sans", sans-serif' font-size="11" stroke="#111" stroke-width="0.3" text-anchor="start" fill="#111" textLength="35.4" lengthAdjust="spacingAndGlyphs">ips con</text>
<text x="533.8" y="365.6" font-family='"Liberation Sans", sans-serif' font-size="11" stroke="#111" stroke-width="0.3" text-anchor="start" fill="#111" textLength="35.5" lengthAdjust="spacingAndGlyphs">ips con</text>
<text x="583.6" y="366.4" font-family='"Liberation Sans", sans-serif' font-size="11" stroke="#111" stroke-width="0.3" text-anchor="start" fill="#111" textLength="35" lengthAdjust="spacingAndGlyphs">ips con</text>
<text x="632" y="367.6" font-family='"Liberation Sans", sans-serif' font-size="11" stroke="#111" stroke-width="0.3" text-anchor="start" fill="#111" textLength="35" lengthAdjust="spacingAndGlyphs">ips con</text>
<text x="387.6" y="386.6" font-family='"Liberation Sans", sans-serif' font-size="10.5" stroke="#222" stroke-width="0.3" text-anchor="start" fill="#222">pNR2B</text>
<text x="388" y="399.6" font-family='"Liberation Sans", sans-serif' font-size="10.5" stroke="#222" stroke-width="0.3" text-anchor="start" fill="#222">180 kDa</text>
<text x="388" y="423" font-family='"Liberation Sans", sans-serif' font-size="10.5" stroke="#222" stroke-width="0.3" text-anchor="start" fill="#222">NR2B</text>
<text x="388" y="436.2" font-family='"Liberation Sans", sans-serif' font-size="10.5" stroke="#222" stroke-width="0.3" text-anchor="start" fill="#222">180 kDa</text>
<text x="387" y="462.8" font-family='"Liberation Sans", sans-serif' font-size="10.5" stroke="#222" stroke-width="0.3" text-anchor="start" fill="#222">&#945;-tubulin</text>
<text x="388" y="476" font-family='"Liberation Sans", sans-serif' font-size="10.5" stroke="#222" stroke-width="0.3" text-anchor="start" fill="#222">50 kDa</text>
<text x="442" y="516.5" font-family='"Liberation Sans", sans-serif' font-size="11.6" stroke="#1a1a1a" stroke-width="0.3" text-anchor="start" fill="#1a1a1a" transform="rotate(-45 442 516.5)">Sham</text>
<text x="486.6" y="516.5" font-family='"Liberation Sans", sans-serif' font-size="11.6" stroke="#1a1a1a" stroke-width="0.3" text-anchor="start" fill="#1a1a1a" transform="rotate(-45 486.6 516.5)">Sham</text>
<text x="529.5" y="523.5" font-family='"Liberation Sans", sans-serif' font-size="11.6" stroke="#1a1a1a" stroke-width="0.3" text-anchor="start" fill="#1a1a1a" transform="rotate(-45 529.5 523.5)">Cancer</text>
<text x="582.5" y="523.5" font-family='"Liberation Sans", sans-serif' font-size="11.6" stroke="#1a1a1a" stroke-width="0.3" text-anchor="start" fill="#1a1a1a" transform="rotate(-45 582.5 523.5)">Cancer</text>
<text x="629.5" y="523.5" font-family='"Liberation Sans", sans-serif' font-size="11.6" stroke="#1a1a1a" stroke-width="0.3" text-anchor="start" fill="#1a1a1a" transform="rotate(-45 629.5 523.5)">Cancer</text>
<g filter="url(#bl04)">
<linearGradient id="gd00" x1="0" y1="0" x2="0" y2="1"><stop offset="0" stop-color="#d6d6d6"/><stop offset="1" stop-color="#d2d2d2"/></linearGradient>
<rect x="437.8" y="373.6" width="41.2" height="32.6" fill="url(#gd00)"/>
<clipPath id="cd00"><rect x="437.8" y="373.6" width="41.2" height="32.6"/></clipPath>
<g clip-path="url(#cd00)">
<rect x="456.9" y="373.6" width="3" height="32.6" fill="#fff" opacity="0.16" filter="url(#bl1)"/>
<rect x="440.4" y="385.2" width="16.1" height="3.6" rx="1.5" fill="#9c9c9c" filter="url(#bl1)"/>
<rect x="459.1" y="385.7" width="15.9" height="3.6" rx="1.5" fill="#6c6c6c" filter="url(#bl1)"/>
</g>
<linearGradient id="gd01" x1="0" y1="0" x2="0" y2="1"><stop offset="0" stop-color="#d4d4d4"/><stop offset="1" stop-color="#cfcfcf"/></linearGradient>
<rect x="484.8" y="373.6" width="40.8" height="32.6" fill="url(#gd01)"/>
<clipPath id="cd01"><rect x="484.8" y="373.6" width="40.8" height="32.6"/></clipPath>
<g clip-path="url(#cd01)">
<rect x="503.7" y="373.6" width="3" height="32.6" fill="#fff" opacity="0.16" filter="url(#bl1)"/>
<rect x="488.2" y="387.9" width="15.4" height="4.2" rx="1.5" fill="#4a4a4a" filter="url(#bl1)"/>
<rect x="506.8" y="388.8" width="18.1" height="3.8" rx="1.5" fill="#6a6a6a" filter="url(#bl1)"/>
<rect x="489.5" y="398.3" width="2" height="2" rx="1" fill="#707070" filter="url(#bl05)"/>
</g>
<linearGradient id="gd02" x1="0" y1="0" x2="0" y2="1"><stop offset="0" stop-color="#d6d6d6"/><stop offset="1" stop-color="#d0d0d0"/></linearGradient>
<rect x="530.5" y="373.6" width="40.4" height="32.6" fill="url(#gd02)"/>
<clipPath id="cd02"><rect x="530.5" y="373.6" width="40.4" height="32.6"/></clipPath>
<g clip-path="url(#cd02)">
<rect x="549.2" y="373.6" width="3" height="32.6" fill="#fff" opacity="0.16" filter="url(#bl1)"/>
<rect x="530.6" y="384.2" width="16" height="3.8" rx="1.5" fill="#444444" filter="url(#bl1)"/>
<rect x="549.3" y="384.6" width="16.2" height="3.8" rx="1.5" fill="#404040" filter="url(#bl1)"/>
<rect x="568.5" y="385.2" width="2.5" height="3.6" rx="1.5" fill="#303030" filter="url(#bl1)"/>
</g>
<linearGradient id="gd03" x1="0" y1="0" x2="0" y2="1"><stop offset="0" stop-color="#d6d6d6"/><stop offset="1" stop-color="#d0d0d0"/></linearGradient>
<rect x="575.6" y="373.6" width="40.7" height="32.6" fill="url(#gd03)"/>
<clipPath id="cd03"><rect x="575.6" y="373.6" width="40.7" height="32.6"/></clipPath>
<g clip-path="url(#cd03)">
<rect x="594.45" y="373.6" width="3" height="32.6" fill="#fff" opacity="0.16" filter="url(#bl1)"/>
<rect x="579.6" y="383.7" width="16" height="3.6" rx="1.5" fill="#6a6a6a" filter="url(#bl1)"/>
<rect x="598.3" y="383.7" width="16" height="3.6" rx="1.5" fill="#606060" filter="url(#bl1)"/>
<rect x="575.6" y="383.2" width="2" height="3.6" rx="1.5" fill="#303030" filter="url(#bl1)"/>
</g>
<linearGradient id="gd04" x1="0" y1="0" x2="0" y2="1"><stop offset="0" stop-color="#d6d6d6"/><stop offset="1" stop-color="#d0d0d0"/></linearGradient>
<rect x="621.4" y="373.6" width="39.2" height="32.6" fill="url(#gd04)"/>
<clipPath id="cd04"><rect x="621.4" y="373.6" width="39.2" height="32.6"/></clipPath>
<g clip-path="url(#cd04)">
<rect x="639.5" y="373.6" width="3" height="32.6" fill="#fff" opacity="0.16" filter="url(#bl1)"/>
<rect x="623.7" y="385.4" width="14.9" height="3.6" rx="1.5" fill="#6c6c6c" filter="url(#bl1)"/>
<rect x="641.9" y="383.9" width="15.4" height="3.6" rx="1.5" fill="#585858" filter="url(#bl1)" transform="rotate(-4 649.6 385.7)"/>
</g>
<linearGradient id="gd10" x1="0" y1="0" x2="0" y2="1"><stop offset="0" stop-color="#a8a8a8"/><stop offset="1" stop-color="#a4a4a4"/></linearGradient>
<rect x="437.8" y="410.5" width="41.2" height="33.2" fill="url(#gd10)"/>
<clipPath id="cd10"><rect x="437.8" y="410.5" width="41.2" height="33.2"/></clipPath>
<g clip-path="url(#cd10)">
<rect x="456.9" y="410.5" width="3" height="33.2" fill="#fff" opacity="0.16" filter="url(#bl1)"/>
<rect x="439.3" y="423" width="17.9" height="5" rx="1.5" fill="#6a6a6a" filter="url(#bl1)"/>
<rect x="460.8" y="423" width="18.7" height="5" rx="1.5" fill="#4a4a4a" filter="url(#bl1)"/>
</g>
<linearGradient id="gd11" x1="0" y1="0" x2="0" y2="1"><stop offset="0" stop-color="#cbcbcb"/><stop offset="1" stop-color="#c6c6c6"/></linearGradient>
<rect x="484.8" y="410.5" width="40.8" height="33.2" fill="url(#gd11)"/>
<clipPath id="cd11"><rect x="484.8" y="410.5" width="40.8" height="33.2"/></clipPath>
<g clip-path="url(#cd11)">
<rect x="503.7" y="410.5" width="3" height="33.2" fill="#fff" opacity="0.16" filter="url(#bl1)"/>
<rect x="485.3" y="424.9" width="17.9" height="5" rx="1.5" fill="#9a9a9a" filter="url(#bl1)"/>
<rect x="508.2" y="424.9" width="17.9" height="5" rx="1.5" fill="#9c9c9c" filter="url(#bl1)"/>
</g>
<linearGradient id="gd12" x1="0" y1="0" x2="0" y2="1"><stop offset="0" stop-color="#b0b0b0"/><stop offset="1" stop-color="#acacac"/></linearGradient>
<rect x="530.5" y="410.5" width="40.4" height="33.2" fill="url(#gd12)"/>
<clipPath id="cd12"><rect x="530.5" y="410.5" width="40.4" height="33.2"/></clipPath>
<g clip-path="url(#cd12)">
<rect x="549.2" y="410.5" width="3" height="33.2" fill="#fff" opacity="0.16" filter="url(#bl1)"/>
<rect x="531.7" y="421" width="16.7" height="5" rx="1.5" fill="#666666" filter="url(#bl1)"/>
<rect x="552.1" y="419.1" width="17.7" height="5" rx="1.5" fill="#464646" filter="url(#bl1)" transform="rotate(-3 560.95 421.6)"/>
</g>
<linearGradient id="gd13" x1="0" y1="0" x2="0" y2="1"><stop offset="0" stop-color="#adadad"/><stop offset="1" stop-color="#a9a9a9"/></linearGradient>
<rect x="575.6" y="410.5" width="40.7" height="33.2" fill="url(#gd13)"/>
<clipPath id="cd13"><rect x="575.6" y="410.5" width="40.7" height="33.2"/></clipPath>
<g clip-path="url(#cd13)">
<rect x="594.45" y="410.5" width="3" height="33.2" fill="#fff" opacity="0.16" filter="url(#bl1)"/>
<rect x="579.6" y="419.1" width="16.7" height="5" rx="1.5" fill="#5c5c5c" filter="url(#bl1)"/>
<rect x="599.4" y="418" width="16.6" height="5" rx="1.5" fill="#5a5a5a" filter="url(#bl1)"/>
</g>
<linearGradient id="gd14" x1="0" y1="0" x2="0" y2="1"><stop offset="0" stop-color="#b1b1b1"/><stop offset="1" stop-color="#adadad"/></linearGradient>
<rect x="621.4" y="410.5" width="39.2" height="33.2" fill="url(#gd14)"/>
<clipPath id="cd14"><rect x="621.4" y="410.5" width="39.2" height="33.2"/></clipPath>
<g clip-path="url(#cd14)">
<rect x="639.5" y="410.5" width="3" height="33.2" fill="#fff" opacity="0.16" filter="url(#bl1)"/>
<rect x="620.9" y="420.2" width="16.6" height="5" rx="1.5" fill="#4c4c4c" filter="url(#bl1)"/>
<rect x="641.3" y="418" width="17.3" height="5" rx="1.5" fill="#565656" filter="url(#bl1)" transform="rotate(-3 649.95 420.5)"/>
</g>
<linearGradient id="gd20" x1="0" y1="0" x2="0" y2="1"><stop offset="0" stop-color="#d2d2d2"/><stop offset="1" stop-color="#cecece"/></linearGradient>
<rect x="437.8" y="448.4" width="41.2" height="33.1" fill="url(#gd20)"/>
<clipPath id="cd20"><rect x="437.8" y="448.4" width="41.2" height="33.1"/></clipPath>
<g clip-path="url(#cd20)">
<linearGradient id="sd20" x1="0" y1="0" x2="0" y2="1"><stop offset="0" stop-color="#000" stop-opacity="0"/><stop offset="0.26" stop-color="#000" stop-opacity="0.26"/><stop offset="1" stop-color="#000" stop-opacity="0.07"/></linearGradient>
<rect x="437.8" y="458" width="41.2" height="23.5" fill="url(#sd20)"/>
<rect x="456.9" y="448.4" width="3" height="33.1" fill="#fff" opacity="0.16" filter="url(#bl1)"/>
<rect x="437" y="455" width="20.6" height="10" rx="1.5" fill="#000" filter="url(#bl1)"/>
<rect x="457.8" y="454.8" width="22" height="10" rx="1.5" fill="#000" filter="url(#bl1)"/>
<rect x="435.2" y="456.75" width="46.6" height="6.5" rx="1.5" fill="#000" filter="url(#bl1)"/>
</g>
<linearGradient id="gd21" x1="0" y1="0" x2="0" y2="1"><stop offset="0" stop-color="#d0d0d0"/><stop offset="1" stop-color="#cccccc"/></linearGradient>
<rect x="484.8" y="448.4" width="40.7" height="33.1" fill="url(#gd21)"/>
<clipPath id="cd21"><rect x="484.8" y="448.4" width="40.7" height="33.1"/></clipPath>
<g clip-path="url(#cd21)">
<linearGradient id="sd21" x1="0" y1="0" x2="0" y2="1"><stop offset="0" stop-color="#000" stop-opacity="0"/><stop offset="0.26" stop-color="#000" stop-opacity="0.28"/><stop offset="1" stop-color="#000" stop-opacity="0.07"/></linearGradient>
<rect x="484.8" y="458.5" width="40.7" height="23" fill="url(#sd21)"/>
<rect x="503.65" y="448.4" width="3" height="33.1" fill="#fff" opacity="0.16" filter="url(#bl1)"/>
<rect x="484" y="455.6" width="20.3" height="10" rx="1.5" fill="#000" filter="url(#bl1)"/>
<rect x="504.2" y="456.25" width="22.2" height="9.5" rx="1.5" fill="#000" filter="url(#bl1)"/>
<rect x="482.2" y="457.55" width="45.6" height="6.5" rx="1.5" fill="#000" filter="url(#bl1)"/>
</g>
<linearGradient id="gd22" x1="0" y1="0" x2="0" y2="1"><stop offset="0" stop-color="#d0d0d0"/><stop offset="1" stop-color="#cccccc"/></linearGradient>
<rect x="530.5" y="448.4" width="40.7" height="33.1" fill="url(#gd22)"/>
<clipPath id="cd22"><rect x="530.5" y="448.4" width="40.7" height="33.1"/></clipPath>
<g clip-path="url(#cd22)">
<linearGradient id="sd22" x1="0" y1="0" x2="0" y2="1"><stop offset="0" stop-color="#000" stop-opacity="0"/><stop offset="0.29" stop-color="#000" stop-opacity="0.24"/><stop offset="1" stop-color="#000" stop-opacity="0.06"/></linearGradient>
<rect x="530.5" y="460.5" width="40.7" height="21" fill="url(#sd22)"/>
<rect x="549.35" y="448.4" width="3" height="33.1" fill="#fff" opacity="0.16" filter="url(#bl1)"/>
<rect x="529.7" y="457.3" width="21.9" height="10" rx="1.5" fill="#000" filter="url(#bl1)"/>
<rect x="551.7" y="458.05" width="19.6" height="10.5" rx="1.5" fill="#000" filter="url(#bl1)"/>
<rect x="528.2" y="459.55" width="44.6" height="6.5" rx="1.5" fill="#000" filter="url(#bl1)"/>
</g>
<linearGradient id="gd23" x1="0" y1="0" x2="0" y2="1"><stop offset="0" stop-color="#d2d2d2"/><stop offset="1" stop-color="#cecece"/></linearGradient>
<rect x="575.8" y="448.4" width="40.5" height="33.1" fill="url(#gd23)"/>
<clipPath id="cd23"><rect x="575.8" y="448.4" width="40.5" height="33.1"/></clipPath>
<g clip-path="url(#cd23)">
<linearGradient id="sd23" x1="0" y1="0" x2="0" y2="1"><stop offset="0" stop-color="#000" stop-opacity="0"/><stop offset="0.29" stop-color="#000" stop-opacity="0.24"/><stop offset="1" stop-color="#000" stop-opacity="0.06"/></linearGradient>
<rect x="575.8" y="461" width="40.5" height="20.5" fill="url(#sd23)"/>
<rect x="594.55" y="448.4" width="3" height="33.1" fill="#fff" opacity="0.16" filter="url(#bl1)"/>
<rect x="575" y="458.15" width="21.7" height="9.5" rx="1.5" fill="#000" filter="url(#bl1)"/>
<rect x="597.2" y="458.8" width="18.8" height="10" rx="1.5" fill="#000" filter="url(#bl1)"/>
<rect x="573.2" y="460.05" width="45.6" height="6.5" rx="1.5" fill="#000" filter="url(#bl1)"/>
</g>
<linearGradient id="gd24" x1="0" y1="0" x2="0" y2="1"><stop offset="0" stop-color="#d0d0d0"/><stop offset="1" stop-color="#cccccc"/></linearGradient>
<rect x="621.3" y="448.4" width="40.7" height="33.1" fill="url(#gd24)"/>
<clipPath id="cd24"><rect x="621.3" y="448.4" width="40.7" height="33.1"/></clipPath>
<g clip-path="url(#cd24)">
<linearGradient id="sd24" x1="0" y1="0" x2="0" y2="1"><stop offset="0" stop-color="#000" stop-opacity="0"/><stop offset="0.26" stop-color="#000" stop-opacity="0.28"/><stop offset="1" stop-color="#000" stop-opacity="0.07"/></linearGradient>
<rect x="621.3" y="458" width="40.7" height="23.5" fill="url(#sd24)"/>
<rect x="640.15" y="448.4" width="3" height="33.1" fill="#fff" opacity="0.16" filter="url(#bl1)"/>
<rect x="620.9" y="455.3" width="20.9" height="11" rx="1.5" fill="#000" filter="url(#bl1)" transform="rotate(-2 631.35 460.8)"/>
<rect x="640.8" y="453.1" width="21.4" height="11" rx="1.5" fill="#000" filter="url(#bl1)" transform="rotate(-2 651.5 458.6)"/>
<rect x="619.2" y="456.3" width="44.6" height="7" rx="1.5" fill="#000" filter="url(#bl1)" transform="rotate(-2 641.5 459.8)"/>
</g>
</g>
</svg></body></html>
